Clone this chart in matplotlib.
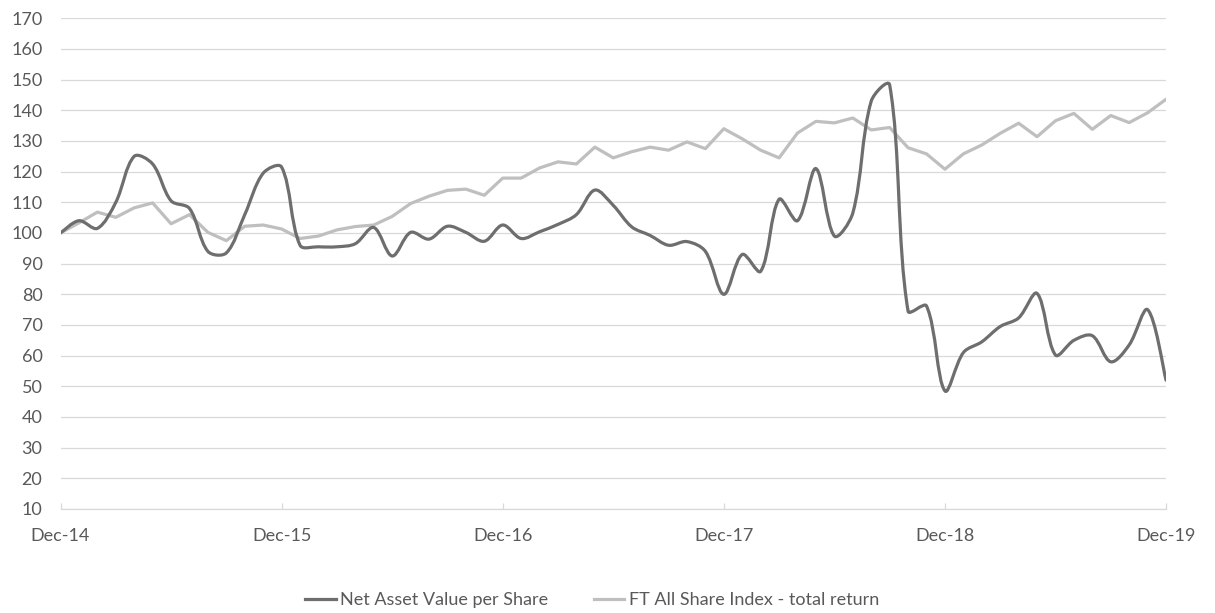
import numpy as np
import matplotlib.pyplot as plt
from matplotlib.path import Path
from matplotlib.patches import PathPatch
from matplotlib.lines import Line2D

plt.rcParams['font.family'] = ['Lato', 'DejaVu Sans']

# monthly values, Dec-14 .. Dec-19 (rebased to 100)
months = np.arange(61)
nav = [100, 104, 101.5, 110, 125, 122.5, 110.5, 108, 94, 93.5,
       106, 119.5, 121.5, 96, 95.5, 95.5, 96.5, 101.8, 92.5, 100.2,
       98, 102.2, 100.2, 97.3, 102.6, 98.2, 100.4, 102.8, 106, 114,
       109, 102, 99.2, 96, 97.2, 94, 80, 93, 87.5, 111,
       104, 121, 99, 106.5, 143, 148.3, 74.5, 76.2, 48.5, 61,
       64.5, 69.5, 72.3, 80.3, 60.2, 65, 66.5, 58, 63.5, 75, 52]
ft = [100, 103.3, 106.8, 105.1, 108.2, 109.8, 103, 106, 100.2, 97.5,
      102.2, 102.6, 101.3, 98.2, 99, 101, 102.1, 102.6, 105.4, 109.6,
      112, 113.9, 114.3, 112.3, 117.9, 117.9, 121.2, 123.2, 122.5, 128,
      124.5, 126.5, 128, 127, 129.7, 127.5, 134, 130.7, 127, 124.5,
      132.6, 136.4, 135.9, 137.5, 133.6, 134.4, 127.8, 125.8, 120.8, 125.8,
      128.7, 132.5, 135.8, 131.4, 136.6, 139, 133.8, 138.3, 136, 139.2, 143.6]
tick_pos = [0, 12, 24, 36, 48, 60]
tick_labels = ['Dec-14', 'Dec-15', 'Dec-16', 'Dec-17', 'Dec-18', 'Dec-19']
names = ['Net Asset Value per Share', 'FT All Share Index - total return']

dark = '#6e6e6e'
light = '#bfbfbf'
txt = '#595959'


def smooth_path(x, y, sx=18.4, sy=3.07):
    # smoothed line like excel: bezier segments, tangents split by segment length
    pts = np.column_stack([x, y]).astype(float)
    n = len(pts)
    scale = np.array([sx, sy])

    def dist(a, b):
        return np.hypot(*((a - b) * scale))

    verts = [pts[0]]
    codes = [Path.MOVETO]
    for i in range(n - 1):
        p0 = pts[max(i - 1, 0)]
        p1 = pts[i]
        p2 = pts[i + 1]
        p3 = pts[min(i + 2, n - 1)]
        d01, d12, d23 = dist(p0, p1), dist(p1, p2), dist(p2, p3)
        w1 = d12 / (d01 + d12) if d01 > 0 else 0.5
        w2 = d12 / (d12 + d23) if d23 > 0 else 0.5
        c1 = p1 + (p2 - p0) * w1 / 3
        c2 = p2 - (p3 - p1) * w2 / 3
        verts += [c1, c2, p2]
        codes += [Path.CURVE4] * 3
    return Path(verts, codes)


fig = plt.figure(figsize=(12.15, 6.13), dpi=100)
ax = fig.add_axes([0.0498, 0.1697, 0.9099, 0.8004])

ax.add_patch(PathPatch(smooth_path(months, nav), fill=False, edgecolor=dark,
                       lw=2.3, capstyle='round', joinstyle='round', zorder=3))
ax.plot(months, ft, color=light, lw=2.3, zorder=2, solid_joinstyle='round')

ax.set_xlim(0, 60)
ax.set_ylim(10, 170)
ax.set_yticks(range(10, 171, 10))
ax.set_xticks(tick_pos)
ax.set_xticklabels(tick_labels)

ax.yaxis.grid(True, color='#d9d9d9', lw=0.9)
ax.set_axisbelow(True)
for s in ['top', 'right', 'left']:
    ax.spines[s].set_visible(False)
ax.spines['bottom'].set_color('#d9d9d9')
ax.spines['bottom'].set_linewidth(0.9)
ax.tick_params(axis='y', length=0, pad=13, labelsize=13, labelcolor=txt)
ax.tick_params(axis='x', direction='in', length=4.5, width=0.9, color='#d9d9d9',
               pad=14, labelsize=13, labelcolor=txt)

handles = [Line2D([], [], color=dark, lw=2.3), Line2D([], [], color=light, lw=2.3)]
fig.legend(handles, names, loc='center', bbox_to_anchor=(592 / 1215, 13 / 613),
           ncol=2, frameon=False, fontsize=13, handlelength=1.7, handletextpad=0.25,
           columnspacing=2.5, labelcolor=txt, borderpad=0)

fig.savefig('out.png', dpi=100)
